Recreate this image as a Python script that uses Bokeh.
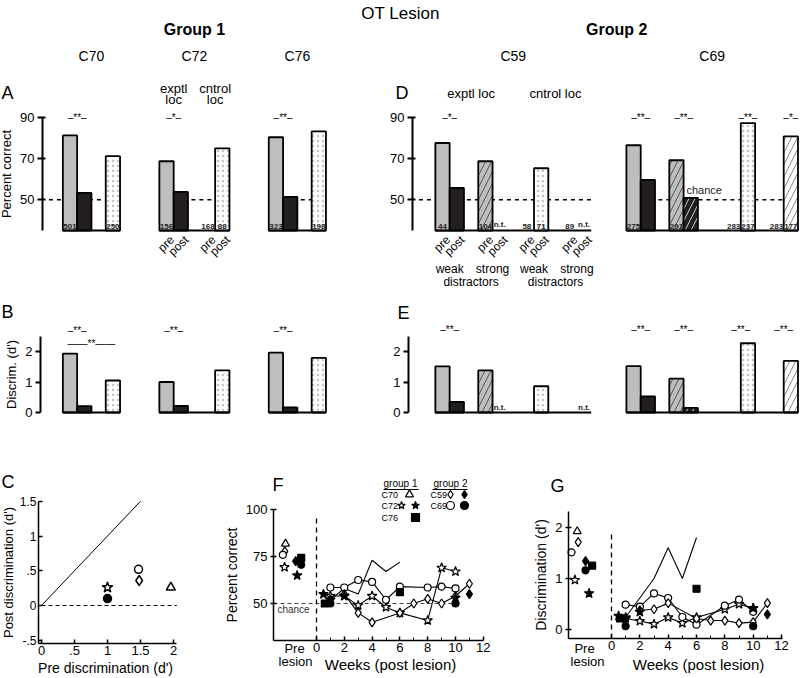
import math
from bokeh.plotting import figure
from bokeh.layouts import column, row
from bokeh.models import Range1d, LinearAxis, FixedTicker, Spacer, ColumnDataSource
from bokeh.core.properties import value
from bokeh.embed import file_html
from bokeh.resources import INLINE

FONT = "Liberation Sans"

# ======================= DATA =======================
chart_title = "OT Lesion"
group_names = ["Group 1", "Group 2"]
group1 = ["C70", "C72", "C76"]
group2 = ["C59", "C69"]

slots_g1 = ["exptl pre", "exptl post", "cntrol pre", "cntrol post"]
slots_g2 = ["exptl weak pre", "exptl weak post", "exptl strong pre", "exptl strong post",
            "cntrol weak pre", "cntrol weak post", "cntrol strong pre", "cntrol strong post"]
kind_g1 = ["gray", "black", "none", "dots"]
kind_g2 = ["gray", "black", "gray_hatch", "black_hatch", "none", "dots", "none", "white_hatch"]
prepost_labels = ["pre", "post"]
distractor_labels = ["weak", "strong", "weak", "strong"]
loc_labels = ["exptl loc", "cntrol loc"]
weeks_label = "Weeks (post lesion)"

# percent correct (panel A / D)
pct_C70 = [81.3, 53.3, None, 71.2]
pct_C72 = [68.7, 53.8, None, 75.0]
pct_C76 = [80.4, 51.4, None, 83.2]
pct_C59 = [77.6, 55.7, 68.7, None, None, 65.3, None, None]
pct_C69 = [76.5, 59.6, 69.2, 50.9, None, 87.3, None, 80.8]

# discrimination d' (panel B / E)
dp_C70 = [1.93, 0.21, None, 1.05]
dp_C72 = [1.00, 0.22, None, 1.38]
dp_C76 = [1.96, 0.17, None, 1.79]
dp_C59 = [1.51, 0.35, 1.38, None, None, 0.86, None, None]
dp_C69 = [1.52, 0.53, 1.11, 0.15, None, 2.27, None, 1.69]

# trial counts written at the bar bases (panel A / D), and n.t. notes (panel E)
n_C70 = ["501", "", "", "250"]
n_C72 = ["156", "", "168", "88"]
n_C76 = ["323", "", "", "198"]
n_C59 = ["44", "", "104", "n.t.", "58", "71", "89", "n.t."]
n_C69 = ["275", "", "291", "", "283", "237", "283", "177"]
nt_dp_C59 = ["", "", "", "n.t.", "", "", "", "n.t."]
nt_dp_C69 = ["", "", "", "", "", "", "", ""]

# significance marks: (slot index anchor, stars, row)
sig_pct_C70 = [(0.5, "**", 0)]
sig_pct_C72 = [(0.5, "*", 0)]
sig_pct_C76 = [(0.5, "**", 0)]
sig_pct_C59 = [(0.5, "*", 0)]
sig_pct_C69 = [(0.5, "**", 0), (2.5, "**", 0), (5.0, "**", 0), (7.0, "*", 0)]
sig_dp_C70 = [(0.5, "**", 0), (1.5, "**", 1)]
sig_dp_C72 = [(0.5, "**", 0)]
sig_dp_C76 = [(0.5, "**", 0)]
sig_dp_C59 = [(0.5, "**", 0)]
sig_dp_C69 = [(0.5, "**", 0), (2.5, "**", 0), (4.5, "**", 0), (6.5, "**", 0)]

# panel C: pre vs post discrimination
c_animal = ["C70", "C72", "C59", "C69", "C69"]
c_pre_dprime = [1.96, 1.00, 1.48, 1.47, 1.00]
c_post_dprime = [0.26, 0.26, 0.36, 0.52, 0.10]
unity_x = [0.0, 1.5]

# panels F / G: pre-lesion points
pre_animal = ["C70", "C59", "C69", "C72", "C59", "C76", "C69", "C72"]
pre_x_F = [-2.23, -2.28, -2.42, -2.30, -1.50, -1.10, -1.10, -1.39]
pre_pct_F = [81.8, 77.7, 75.9, 69.3, 72.5, 74.3, 70.6, 64.9]
pre_x_G = [-2.42, -2.35, -2.82, -2.58, -1.83, -1.37, -1.83, -1.58]
pre_dp_G = [1.92, 1.71, 1.51, 0.97, 1.34, 1.25, 1.16, 0.71]

# panels F / G: weekly post-lesion performance
weeks_C70 = [1, 2, 3, 4, 5, 6]
pctF_C70 = [52, 58, 55, 73, 67, 72]
dpG_C70 = [0.25, 0.62, 1.00, 1.60, 1.00, 1.80]

weeks_C72_open = [1, 2, 3, 4, 5, 6, 8, 9, 10]
pctF_C72_open = [54, 54, 49, 54, 48, 45, 41, 69, 67]
dpG_C72_open = [0.22, 0.17, 0.11, 0.24, 0.13, 0.24, 0.40, 0.50, 0.42]

weeks_C72_fill = [0.5, 1, 2, 10]
pctF_C72_fill = [55, 52, 54, 53]
dpG_C72_fill = [0.27, 0.24, 0.35, 0.42]

weeks_C69_open = [1, 2, 3, 4, 5, 6, 8, 9, 10]
pctF_C69_open = [58.5, 58.5, 62.5, 61.5, 52, 59, 58.5, 59, 58]
dpG_C69_open = [0.49, 0.45, 0.71, 0.62, 0.25, 0.10, 0.47, 0.59, 0.35]

weeks_C69_fill = [1, 10]
pctF_C69_fill = [50, 50]
dpG_C69_fill = [0.07, 0.07]

weeks_C59_open = [2, 3, 4, 6, 7, 8, 9, 10, 11]
pctF_C59_open = [55, 45, 40, 45, 50, 52.5, 50, 54, 60.5]
dpG_C59_open = [0.38, 0.40, 0.52, 0.22, 0.18, 0.18, 0.13, 0.15, 0.52]

weeks_C59_fill = [1, 11]
pctF_C59_fill = [52, 55]
dpG_C59_fill = [0.22, 0.30]

weeks_C76 = [0.6, 6]
pctF_C76 = [50, 56]
dpG_C76 = [0.22, 0.80]

# ======================= STYLE / LAYOUT =======================
PCT = {"C70": pct_C70, "C72": pct_C72, "C76": pct_C76, "C59": pct_C59, "C69": pct_C69}
DP = {"C70": dp_C70, "C72": dp_C72, "C76": dp_C76, "C59": dp_C59, "C69": dp_C69}
NTR = {"C70": n_C70, "C72": n_C72, "C76": n_C76, "C59": n_C59, "C69": n_C69}
NTDP = {"C59": nt_dp_C59, "C69": nt_dp_C69}
SIGP = {"C70": sig_pct_C70, "C72": sig_pct_C72, "C76": sig_pct_C76, "C59": sig_pct_C59, "C69": sig_pct_C69}
SIGD = {"C70": sig_dp_C70, "C72": sig_dp_C72, "C76": sig_dp_C76, "C59": sig_dp_C59, "C69": sig_dp_C69}

GRAY = "#bebebf"
DARK = "#231f20"
KIND = {
    "gray": (GRAY, "blank", "#000000", 10, 1.0),
    "black": (DARK, "blank", "#000000", 10, 1.0),
    "gray_hatch": (GRAY, "right_diagonal_line", "#555555", 12, 1.0),
    "black_hatch": (DARK, "right_diagonal_line", "#c8c8c8", 12, 1.0),
    "dots": ("#ffffff", "dot", "#c4c4c4", 5, 1.0),
    "white_hatch": ("#ffffff", "right_diagonal_line", "#8a8a8a", 12, 1.0),
}

G1_CTRL_GAP = {"C70": 0.0, "C72": 0.9, "C76": 0.0}
G1_ANIMAL_GAP = 2.75
G2_GAPS = {"C59": (1.0, 0.9), "C69": (1.0, 2.0)}
G2_ANIMAL_GAP = 2.46

# page pixel calibrations (page = canvas, layout starts at 0,0)
G1_X0, G1_PITCH = 69.5, 14.3
G2_X0, G2_PITCH = 442.0, 14.3
A_Y90, A_PXU = 117.0, 2.055
B_Y0, B_PXU = 412.0, 30.5
C_X0, C_XPU, C_Y0, C_YPU = 41.0, 66.0, 605.0, 69.5
F_X0, F_XPU, F_Y50, F_YPU = 316.0, 13.9, 603.0, 1.88
G_X0, G_XPU, G_Y0, G_YPU = 611.0, 14.17, 629.3, 51.3

ROW_HDR = (0, 108)
ROW_A = (108, 292)
ROW_B = (292, 470)
ROW_C = (470, 678)


def g1x(px): return (px - G1_X0) / G1_PITCH
def g2x(px): return (px - G2_X0) / G2_PITCH
def ay(py): return 90 - (py - A_Y90) / A_PXU
def by(py): return (B_Y0 - py) / B_PXU
def cx(px): return (px - C_X0) / C_XPU
def cy(py): return (C_Y0 - py) / C_YPU
def fx(px): return (px - F_X0) / F_XPU
def fy(py): return 50 + (F_Y50 - py) / F_YPU
def gx(px): return (px - G_X0) / G_XPU
def gy(py): return (G_Y0 - py) / G_YPU


def positions_g1():
    out, start = {}, 0.0
    for a in group1:
        g = G1_CTRL_GAP[a]
        out[a] = [start, start + 1, start + 2 + g, start + 3 + g]
        start = out[a][-1] + 1 + G1_ANIMAL_GAP
    return out


def positions_g2():
    out, start = {}, 0.0
    for a in group2:
        s, g = G2_GAPS[a]
        rel = [0, 1, 2 + s, 3 + s, 4 + s + g, 5 + s + g, 6 + 2 * s + g, 7 + 2 * s + g]
        out[a] = [start + r for r in rel]
        start = out[a][-1] + 1 + G2_ANIMAL_GAP
    return out


def interp(xs, f):
    i = min(int(math.floor(f)), len(xs) - 2)
    return xs[i] + (f - i) * (xs[i + 1] - xs[i])


POS1 = positions_g1()
POS2 = positions_g2()


def mkfig(w, h, xr, yr):
    p = figure(width=w, height=h, x_range=Range1d(*xr), y_range=Range1d(*yr),
               x_axis_type=None, y_axis_type=None, output_backend="svg",
               toolbar_location=None, min_border=0)
    p.min_border_left = 0
    p.min_border_right = 0
    p.min_border_top = 0
    p.min_border_bottom = 0
    p.outline_line_color = None
    p.background_fill_color = "white"
    p.border_fill_color = "white"
    return p


def T(p, xs, ys, texts, size, align="center", baseline="middle", style="normal",
      angle=0.0, color="black"):
    p.text(x=list(xs), y=list(ys), text=list(texts), text_font=value(FONT),
           text_font_size=value(f"{size}px"), text_align=align, text_baseline=baseline,
           text_font_style=style, angle=angle, text_color=color)


def add_axis(p, side, loc, bounds, ticks, label=None, overrides=None, minor=None,
             tick_in=0, tick_out=4, lw=1.5, tick_size=12, label_size=12,
             label_standoff=3, tick_standoff=3):
    ax = LinearAxis(fixed_location=loc, bounds=bounds,
                    ticker=FixedTicker(ticks=ticks, minor_ticks=minor or []))
    ax.axis_label = label
    ax.axis_line_width = lw
    ax.axis_line_color = "black"
    ax.major_tick_line_width = lw
    ax.major_tick_line_color = "black"
    ax.minor_tick_line_width = 1
    ax.minor_tick_line_color = "black"
    ax.major_tick_in = tick_in
    ax.major_tick_out = tick_out
    ax.minor_tick_in = 3 if minor else 0
    ax.minor_tick_out = 0
    ax.major_label_text_font = FONT
    ax.major_label_text_font_size = f"{tick_size}px"
    ax.major_label_text_color = "black"
    ax.axis_label_text_font = FONT
    ax.axis_label_text_font_size = f"{label_size}px"
    ax.axis_label_text_font_style = "normal"
    ax.axis_label_text_color = "black"
    ax.major_label_standoff = tick_standoff
    ax.axis_label_standoff = label_standoff
    if overrides:
        ax.major_label_overrides = overrides
    p.add_layout(ax, side)
    return ax


def bar_panel(p, animals, pos, values, kinds, base, axis_x, chance=None):
    if chance is not None:
        x0, x1 = [], []
        for i, a in enumerate(animals):
            x0.append(axis_x + 0.45 if i == 0 else pos[a][0] - 0.5)
            x1.append(pos[a][-1] + 0.5)
        p.segment(x0=x0, y0=[chance] * len(x0), x1=x1, y1=[chance] * len(x0),
                  line_color="black", line_width=1.5, line_dash="4 4")
    d = dict(x=[], top=[], fill=[], hatch=[], hcol=[], hscale=[], hw=[])
    for a in animals:
        for x, v, k in zip(pos[a], values[a], kinds):
            if v is None or k == "none":
                continue
            f, h, hc, hs, hw = KIND[k]
            d["x"].append(x); d["top"].append(v); d["fill"].append(f)
            d["hatch"].append(h); d["hcol"].append(hc); d["hscale"].append(hs); d["hw"].append(hw)
    p.vbar(x="x", width=1.0, bottom=base, top="top", source=ColumnDataSource(d),
           fill_color="fill", hatch_pattern="hatch", hatch_color="hcol",
           hatch_scale="hscale", hatch_weight="hw", line_color="black", line_width=1.8)
    x0 = [pos[a][0] - 0.5 for a in animals]
    x1 = [pos[a][-1] + 0.5 for a in animals]
    p.segment(x0=x0, y0=[base] * len(x0), x1=x1, y1=[base] * len(x0),
              line_color="black", line_width=2)


def base_labels(p, animals, pos, labels, y):
    xs, ys, ts = [], [], []
    for a in animals:
        for x, t in zip(pos[a], labels[a]):
            if t:
                xs.append(x); ys.append(y); ts.append(t)
    T(p, xs, ys, ts, 8, baseline="bottom", style="bold", color="#222222")


def sig_marks(p, animals, pos, sigs, levels):
    xs, ys, ts = [], [], []
    for a in animals:
        for anchor, stars, lev in sigs[a]:
            xs.append(interp(pos[a], anchor))
            ys.append(levels[lev])
            ts.append(("\u2013" + stars + "\u2013") if lev == 0 else ("\u2014\u2014" + stars + "\u2014\u2014"))
    T(p, xs, ys, ts, 10)


def px1(x): return G1_X0 + G1_PITCH * x
def px2(x): return G2_X0 + G2_PITCH * x


# ======================= HEADER =======================
hdr = mkfig(800, ROW_HDR[1] - ROW_HDR[0], (0, 800), (ROW_HDR[1], ROW_HDR[0]))
T(hdr, [400], [13], [chart_title], 17)
g1c = (px1(POS1[group1[0]][0] - 0.5) + px1(POS1[group1[-1]][-1] + 0.5)) / 2
g2c = (px2(POS2[group2[0]][0] - 0.5) + px2(POS2[group2[-1]][-1] + 0.5)) / 2
T(hdr, [g1c, g2c], [29, 29], group_names, 16, style="bold")
ax_ = [px1((POS1[a][0] + POS1[a][-1]) / 2) for a in group1] + \
      [px2((POS2[a][0] + POS2[a][-1]) / 2) for a in group2]
T(hdr, ax_, [55] * 5, group1 + group2, 14)
T(hdr, [1, 395], [92, 92], ["A", "D"], 18, align="left")
c72 = POS1["C72"]
e_x = px1(interp(c72, 0.5)); c_x = px1(interp(c72, 2.5))
T(hdr, [e_x, e_x, c_x, c_x], [88, 99, 88, 99],
  [loc_labels[0].split()[0], "loc", loc_labels[1].split()[0], "loc"], 13)
c59 = POS2["C59"]
T(hdr, [px2(interp(c59, 1.5)), px2(interp(c59, 5.5))], [93, 93], loc_labels, 13)

# ======================= PANEL A / D =======================
hA = ROW_A[1] - ROW_A[0]
A1 = mkfig(330, hA, (g1x(0), g1x(330)), (ay(ROW_A[1]), ay(ROW_A[0])))
axA = g1x(42)
bar_panel(A1, group1, POS1, PCT, kind_g1, 35, axA, chance=50)
base_labels(A1, group1, POS1, NTR, 35.8)
sig_marks(A1, group1, POS1, SIGP, [90, 90])
add_axis(A1, "left", axA, (35, 90), [50, 70, 90], label="Percent correct",
         tick_in=3, tick_out=5, lw=2, tick_size=13, label_size=13)
xs, ys, ts = [], [], []
for i, x in enumerate(POS1["C72"]):
    xs.append(x + 0.4); ys.append(31.5); ts.append(prepost_labels[i % 2])
T(A1, xs, ys, ts, 12, align="right", angle=math.pi / 4)

D = mkfig(460, hA, (g2x(340), g2x(800)), (ay(ROW_A[1]), ay(ROW_A[0])))
axD = g2x(412)
bar_panel(D, group2, POS2, PCT, kind_g2, 35, axD, chance=50)
base_labels(D, group2, POS2, NTR, 35.8)
sig_marks(D, group2, POS2, SIGP, [90, 90])
add_axis(D, "left", axD, (35, 90), [50, 70, 90], tick_in=3, tick_out=5, lw=2, tick_size=13)
xs, ys, ts = [], [], []
for i, x in enumerate(POS2["C59"]):
    xs.append(x + 0.4); ys.append(31.5); ts.append(prepost_labels[i % 2])
T(D, xs, ys, ts, 12, align="right", angle=math.pi / 4)
T(D, [interp(c59, f) for f in (0.5, 2.5, 4.5, 6.5)], [ay(268)] * 4, distractor_labels, 12)
T(D, [interp(c59, 1.5), interp(c59, 5.5)], [ay(281)] * 2, ["distractors", "distractors"], 12)
T(D, [POS2["C69"][3] - 0.3], [51.6], ["chance"], 11, align="left", baseline="bottom", color="#222222")

# ======================= PANEL B / E =======================
hB = ROW_B[1] - ROW_B[0]
B1 = mkfig(330, hB, (g1x(0), g1x(330)), (by(ROW_B[1]), by(ROW_B[0])))
axB = g1x(40)
bar_panel(B1, group1, POS1, DP, kind_g1, 0, axB)
sig_marks(B1, group1, POS1, SIGD, [by(330), by(343)])
add_axis(B1, "left", axB, (0, 2.5), [0, 1, 2], label="Discrim. (d')",
         tick_in=0, tick_out=5, lw=2, tick_size=13, label_size=13)
T(B1, [g1x(1)], [by(311)], ["B"], 18, align="left")

E = mkfig(460, hB, (g2x(340), g2x(800)), (by(ROW_B[1]), by(ROW_B[0])))
axE = g2x(408)
bar_panel(E, group2, POS2, DP, kind_g2, 0, axE)
base_labels(E, group2, POS2, NTDP, 0.03)
sig_marks(E, group2, POS2, SIGD, [by(329), by(343)])
add_axis(E, "left", axE, (0, 2.5), [0, 1, 2], tick_in=0, tick_out=5, lw=2, tick_size=13)
T(E, [g2x(397)], [by(312)], ["E"], 18, align="left")

# ======================= PANEL C =======================
hC = ROW_C[1] - ROW_C[0]
Cf = mkfig(200, hC, (cx(0), cx(200)), (cy(ROW_C[1]), cy(ROW_C[0])))
Cf.segment(x0=[0], y0=[0], x1=[2.05], y1=[0], line_color="black", line_width=1, line_dash="4 3")
Cf.line(unity_x, unity_x, line_color="black", line_width=1)
MARK = {"C70": ("triangle", "white", 9), "C72": ("star", "white", 11),
        "C59": ("diamond", "white", 10), "C69": ("circle", "white", 8)}
cm, cf, cs = [], [], []
for i, a in enumerate(c_animal):
    m, f, s = MARK[a]
    if i == 4:
        f = "black"
    cm.append(m); cf.append(f); cs.append(s)
Cf.scatter(x="x", y="y", marker="m", fill_color="f", size="s", line_color="black", line_width=1.5,
           source=ColumnDataSource(dict(x=c_pre_dprime, y=c_post_dprime, m=cm, f=cf, s=cs)))
add_axis(Cf, "left", cx(38), (cy(643), 1.5), [-0.5, 0, 0.5, 1, 1.5],
         label="Post discrimination (d')",
         overrides={-0.5: "-.5", 0: "0", 0.5: ".5", 1: "1", 1.5: "1.5"},
         tick_in=4, tick_out=0, lw=1.5, tick_size=12, label_size=13, tick_standoff=2,
         label_standoff=1)
add_axis(Cf, "below", cy(643), (cx(38), 2.05), [0, 0.5, 1, 1.5, 2],
         label="Pre discrimination  (d')",
         overrides={0: "0", 0.5: ".5", 1: "1", 1.5: "1.5", 2: "2"},
         tick_in=4, tick_out=0, lw=1.5, tick_size=13, label_size=14, tick_standoff=2, label_standoff=2)
T(Cf, [cx(1)], [cy(481)], ["C"], 18, align="left")

# ======================= PANELS F / G =======================
SERIES = [
    # (weeks, F values, G values, marker, filled, connected)
    (weeks_C70, pctF_C70, dpG_C70, None, False, True),
    (weeks_C72_open, pctF_C72_open, dpG_C72_open, "star", False, True),
    (weeks_C69_open, pctF_C69_open, dpG_C69_open, "circle", False, True),
    (weeks_C59_open, pctF_C59_open, dpG_C59_open, "diamond", False, True),
    (weeks_C72_fill, pctF_C72_fill, dpG_C72_fill, "star", True, False),
    (weeks_C69_fill, pctF_C69_fill, dpG_C69_fill, "circle", True, False),
    (weeks_C59_fill, pctF_C59_fill, dpG_C59_fill, "diamond", True, False),
    (weeks_C76, pctF_C76, dpG_C76, "square", True, False),
]
MS = {"triangle": 8, "star": 10, "diamond": 9, "circle": 7, "square": 7}
PRE_M = {"C70": "triangle", "C72": "star", "C59": "diamond", "C69": "circle", "C76": "square"}
pre_filled = [False, False, False, False, True, True, True, True]


def series_panel(p, col, pre_x, pre_y):
    for s in SERIES:
        if s[5]:
            p.line(s[0], s[col], line_color="black", line_width=1.1)
    for s in SERIES:
        if s[3]:
            p.scatter(s[0], s[col], marker=s[3], size=MS[s[3]],
                      fill_color="black" if s[4] else "white", line_color="black", line_width=1.2)
    pm = [PRE_M[a] for a in pre_animal]
    pf = ["black" if f else "white" for f in pre_filled]
    ps = [MS[m] for m in pm]
    p.scatter(x="x", y="y", marker="m", fill_color="f", size="s", line_color="black", line_width=1.2,
              source=ColumnDataSource(dict(x=pre_x, y=pre_y, m=pm, f=pf, s=ps)))


Ff = mkfig(300, hC, (fx(200), fx(500)), (fy(ROW_C[1]), fy(ROW_C[0])))
Ff.segment(x0=[0], y0=[fy(640)], x1=[0], y1=[fy(518)], line_color="black", line_width=1.3, line_dash="5 4")
Ff.segment(x0=[fx(273)], y0=[50], x1=[fx(460)], y1=[50], line_color="#444444", line_width=1.2, line_dash="4 3")
series_panel(Ff, 1, pre_x_F, pre_pct_F)
add_axis(Ff, "left", fx(273), (fy(640), 100), [50, 75, 100], label="Percent correct",
         tick_in=3, tick_out=3, lw=1.5, tick_size=13, label_size=14)
add_axis(Ff, "below", fy(640), (fx(273), 12), [0, 2, 4, 6, 8, 10, 12], minor=[1, 3, 5, 7, 9, 11],
         tick_in=4, tick_out=0, lw=1.5, tick_size=13, tick_standoff=2)
T(Ff, [fx(390)], [fy(664)], [weeks_label], 15)
T(Ff, [fx(293)], [fy(609)], ["chance"], 10, color="#333333")
T(Ff, [fx(294), fx(295)], [fy(648), fy(661)], ["Pre", "lesion"], 13)
T(Ff, [fx(272)], [fy(484)], ["F"], 18, align="left")
# legend
T(Ff, [fx(400), fx(450)], [fy(483), fy(483)], ["group 1", "group 2"], 10)
Ff.segment(x0=[fx(383), fx(432)], y0=[fy(489)] * 2, x1=[fx(418), fx(467)], y1=[fy(489)] * 2,
           line_color="black", line_width=1)
T(Ff, [fx(381)] * 3 + [fx(430)] * 2, [fy(494), fy(505), fy(517), fy(494), fy(505)],
  ["C70", "C72", "C76", "C59", "C69"], 9, align="left")
lg_x = [fx(409), fx(401), fx(415), fx(415), fx(450), fx(464), fx(450), fx(464)]
lg_y = [fy(494), fy(505), fy(505), fy(517), fy(494), fy(494), fy(505), fy(505)]
lg_m = ["triangle", "star", "star", "square", "diamond", "diamond", "circle", "circle"]
lg_f = ["white", "white", "black", "black", "white", "black", "white", "black"]
Ff.scatter(x="x", y="y", marker="m", fill_color="f", size=8, line_color="black", line_width=1.2,
           source=ColumnDataSource(dict(x=lg_x, y=lg_y, m=lg_m, f=lg_f)))

Gf = mkfig(300, hC, (gx(500), gx(800)), (gy(ROW_C[1]), gy(ROW_C[0])))
Gf.segment(x0=[0], y0=[gy(638)], x1=[0], y1=[gy(530)], line_color="black", line_width=1.3, line_dash="5 4")
series_panel(Gf, 2, pre_x_G, pre_dp_G)
add_axis(Gf, "left", gx(568), (gy(638), 2.3), [0, 1, 2], label="Discrimination (d')",
         tick_in=3, tick_out=3, lw=1.5, tick_size=13, label_size=14)
add_axis(Gf, "below", gy(638), (gx(568), 12.1), [0, 2, 4, 6, 8, 10, 12], minor=[1, 3, 5, 7, 9, 11],
         tick_in=4, tick_out=0, lw=1.5, tick_size=13, tick_standoff=2)
T(Gf, [gx(698)], [gy(664)], [weeks_label], 15)
T(Gf, [gx(584), gx(587)], [gy(648), gy(661)], ["Pre", "lesion"], 13)
T(Gf, [gx(550)], [gy(485)], ["G"], 18, align="left")

layout = column(
    hdr,
    row(A1, Spacer(width=10, height=hA), D),
    row(B1, Spacer(width=10, height=hB), E),
    row(Cf, Ff, Gf),
)

open("out.html", "w").write(file_html(layout, INLINE))
